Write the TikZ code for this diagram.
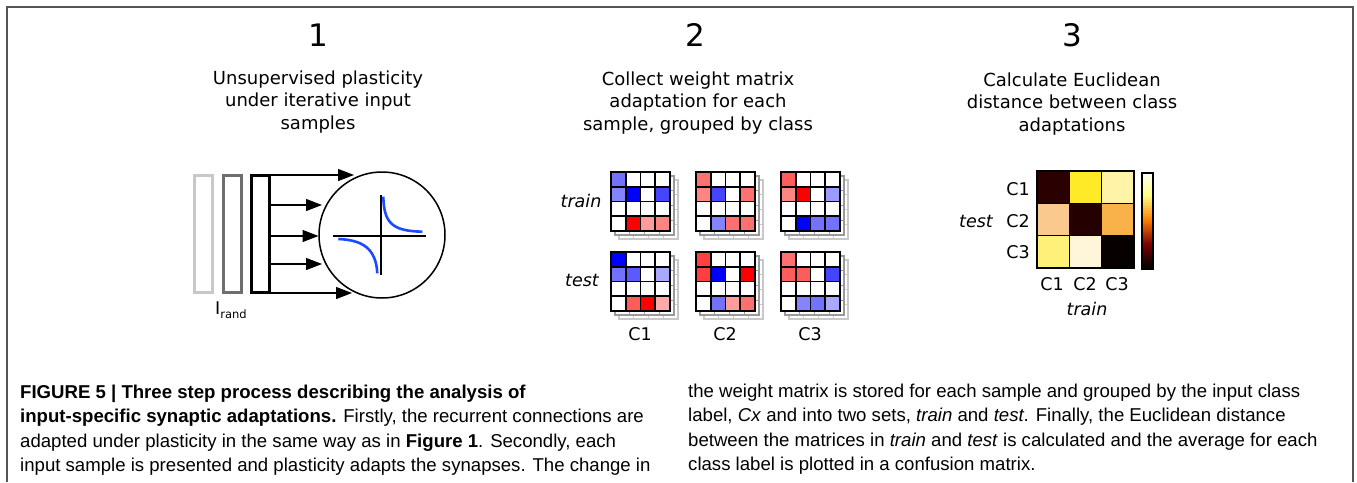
\documentclass[tikz,border=0pt]{standalone}
\usepackage{fontspec}
\setmainfont{DejaVu Sans}
\newfontfamily\capfont{Liberation Sans}
\usetikzlibrary{arrows.meta}
\definecolor{frameg}{HTML}{555555}
\definecolor{inA}{HTML}{C8C8C8}
\definecolor{inB}{HTML}{6E6E6E}
\definecolor{hypblue}{HTML}{1A4BFF}
\definecolor{shadeA}{HTML}{9A9A9A}
\definecolor{shadeB}{HTML}{C8C8C8}
\definecolor{b0}{HTML}{0000FF}
\definecolor{b1}{HTML}{4545FF}
\definecolor{b2}{HTML}{5A5AFF}
\definecolor{b3}{HTML}{7272FF}
\definecolor{b4}{HTML}{8484FF}
\definecolor{b5}{HTML}{9A9AFF}
\definecolor{b6}{HTML}{A8A8FF}
\definecolor{r0}{HTML}{FF0000}
\definecolor{r1}{HTML}{FF4040}
\definecolor{r2}{HTML}{FF5C5C}
\definecolor{r3}{HTML}{FF7070}
\definecolor{r4}{HTML}{FF8585}
\definecolor{r5}{HTML}{FF9C9C}
\definecolor{r6}{HTML}{FFAAAA}
\definecolor{w}{HTML}{FFFFFF}
\definecolor{cA}{HTML}{2B0000}
\definecolor{cB}{HTML}{FFEA28}
\definecolor{cC}{HTML}{FFF3A8}
\definecolor{cD}{HTML}{F9C98D}
\definecolor{cE}{HTML}{250000}
\definecolor{cF}{HTML}{F9B24A}
\definecolor{cG}{HTML}{FFF07A}
\definecolor{cH}{HTML}{FFF5D8}
\definecolor{cI}{HTML}{060000}
\newcommand\wmat[4]{%
  \foreach \o/\c in {8/shadeB,4/shadeA}{
    \filldraw[fill=white,draw=\c,line width=1.2] (#2+\o,#3+\o) rectangle ++(59,59);
    \foreach \k in {1,2,3}{
      \draw[\c,line width=1.2] (#2+\o+\k*14.75,#3+\o) -- ++(0,59);
      \draw[\c,line width=1.2] (#2+\o,#3+\o+\k*14.75) -- ++(59,0);
    }
  }
  \foreach \col [count=\i from 0] in {#4}{
    \pgfmathtruncatemacro\rr{floor(\i/4)}
    \pgfmathtruncatemacro\cc{mod(\i,4)}
    \fill[\col] (#2+\cc*14.75,#3+\rr*14.75) rectangle ++(14.75,14.75);
  }
  \foreach \k in {1,2,3}{
    \draw[black,line width=1.6] (#2+\k*14.75,#3) -- ++(0,59);
    \draw[black,line width=1.6] (#2,#3+\k*14.75) -- ++(59,0);
  }
  \node[draw=black,line width=1.8,minimum size=59,inner sep=0,outer sep=0,anchor=north west] (#1) at (#2,#3) {};
}
\tikzset{
  numlbl/.style={font=\fontsize{31}{31}\selectfont},
  desc/.style={align=center,font=\fontsize{18}{22.5}\selectfont},
  lbl/.style={font=\fontsize{17.5}{20}\selectfont,inner sep=0},
  ilbl/.style={font=\fontsize{17.5}{20}\selectfont\itshape,inner sep=0},
  inbox/.style={rectangle,minimum width=18,minimum height=117,line width=3,inner sep=0,outer sep=0},
  arr/.style={line width=1.3,-{Triangle[length=16pt,width=12pt]}},
  hyp/.style={hypblue,line width=2.6},
  captxt/.style={anchor=base west,inner sep=0,font=\capfont\fontsize{18.6}{24}\selectfont},
}
\begin{document}
\begin{tikzpicture}[x=1pt,y=-1pt]
\useasboundingbox (0,0) rectangle (1357,482);
% frame
\draw[frameg,line width=1.6] (7,482) -- (7,7) -- (1353,7) -- (1353,482);
% numbers
\node[numlbl] (n1) at (318,35) {1};
\node[numlbl] (n2) at (695,35) {2};
\node[numlbl] (n3) at (1072,35) {3};
% descriptions
\node[desc] (d1) at (318,102) {Unsupervised plasticity\\under iterative input\\samples};
\node[desc] (d2) at (698,103) {Collect weight matrix\\adaptation for each\\sample, grouped by class};
\node[desc] (d3) at (1072,104) {Calculate Euclidean\\distance between class\\adaptations};
% panel 1
\node[inbox,draw=inA] (in1) at (203.5,234) {};
\node[inbox,draw=inB] (in2) at (232,234) {};
\node[inbox,draw=black] (in3) at (260.5,234) {};
\node[circle,draw,line width=1.5,minimum size=126,inner sep=0] (neu) at (382,235) {};
\coordinate (t1) at (354,175);
\coordinate (t2) at (322,205);
\coordinate (t3) at (318.5,236);
\coordinate (t4) at (322,264);
\coordinate (t5) at (352,293);
\foreach \t in {t1,t2,t3,t4,t5}{\draw[arr] (in3.east |- \t) -- (\t);}
\draw[line width=1.3] (333,236) -- (426,236);
\draw[line width=1.3] (381,195) -- (381,275);
\draw[hyp] (383.3,196.7) .. controls (384,223) and (392,231) .. (422.3,231.7);
\draw[hyp] (338.3,239) .. controls (362,240) and (376,248) .. (377.3,273.3);
\node[lbl,anchor=base west] (irand) at (215,314) {I\raisebox{-0.45ex}{\fontsize{11.5}{11.5}\selectfont rand}};
% panel 2
\wmat{m1a}{611}{172}{b3,w,w,w,b4,b0,w,b1,w,w,w,w,w,r0,r5,r4}
\wmat{m1b}{611}{252}{b0,w,w,w,b3,b2,w,b6,w,w,w,w,w,r2,r0,r6}
\wmat{m2a}{696}{172}{r3,w,w,w,r4,b1,w,r3,w,w,w,w,w,b4,r3,r3}
\wmat{m2b}{696}{252}{r1,w,w,w,r1,b0,w,r0,w,w,w,w,w,b3,r5,r3}
\wmat{m3a}{781}{172}{r2,w,w,w,r4,r0,w,b5,w,w,w,w,w,b0,b3,b3}
\wmat{m3b}{781}{252}{r3,w,w,w,r2,r2,w,b1,w,w,w,w,w,b4,b3,b6}
\node[ilbl] (ltrain) at (581,201) {train};
\node[ilbl] (ltest) at (582,280) {test};
\node[lbl] (lc1) at (640,334) {C1};
\node[lbl] (lc2) at (725,334) {C2};
\node[lbl] (lc3) at (810,334) {C3};
% panel 3
\foreach \col [count=\i from 0] in {cA,cB,cC,cD,cE,cF,cG,cH,cI}{
  \pgfmathtruncatemacro\rr{floor(\i/3)}
  \pgfmathtruncatemacro\cc{mod(\i,3)}
  \filldraw[fill=\col,draw=black,line width=1.4] (1037+\cc*32.2,171+\rr*32.2) rectangle ++(32.2,32.2);
}
\node[draw=black,line width=2,minimum size=96.6,inner sep=0,outer sep=0,anchor=north west] (conf) at (1037,171) {};
% colour bar (afmhot), bottom = black, top = white
\foreach \k in {0,...,47}{
  \pgfmathsetmacro\tt{(\k+0.5)/48}
  \pgfmathsetmacro\cr{min(1,2*\tt)}
  \pgfmathsetmacro\cg{max(0,min(1,2*\tt-0.5))}
  \pgfmathsetmacro\cb{max(0,min(1,2*\tt-1))}
  \definecolor{barcol}{rgb}{\cr,\cg,\cb}
  \fill[barcol] (1141,268-\k*2) rectangle (1152,266-\k*2-0.3);
}
\node[draw=black,line width=2,minimum width=11,minimum height=96,inner sep=0,anchor=north west] (cbar) at (1141,172) {};
\node[lbl] (r1) at (1018,189) {C1};
\node[lbl] (r2) at (1018,221) {C2};
\node[lbl] (r3) at (1018,252) {C3};
\node[ilbl] (ctest) at (976,221) {test};
\node[lbl] (k1) at (1052,284) {C1};
\node[lbl] (k2) at (1085,284) {C2};
\node[lbl] (k3) at (1117,284) {C3};
\node[ilbl] (ctrain) at (1087,309) {train};
% caption
\node[captxt] (cl1) at (20,398) {\textbf{FIGURE 5 | Three step process describing the analysis of}};
\node[captxt] (cl2) at (20,422) {\textbf{input-specific synaptic adaptations.} Firstly, the recurrent connections are};
\node[captxt] (cl3) at (20,447) {adapted under plasticity in the same way as in \textbf{Figure 1}. Secondly, each};
\node[captxt] (cl4) at (20,471) {input sample is presented and plasticity adapts the synapses. The change in};
\node[captxt] (cr1) at (688,397) {the weight matrix is stored for each sample and grouped by the input class};
\node[captxt] (cr2) at (688,421) {label, \textit{Cx} and into two sets, \textit{train} and \textit{test}. Finally, the Euclidean distance};
\node[captxt] (cr3) at (688,446) {between the matrices in \textit{train} and \textit{test} is calculated and the average for each};
\node[captxt] (cr4) at (688,470) {class label is plotted in a confusion matrix.};
\end{tikzpicture}
\end{document}
